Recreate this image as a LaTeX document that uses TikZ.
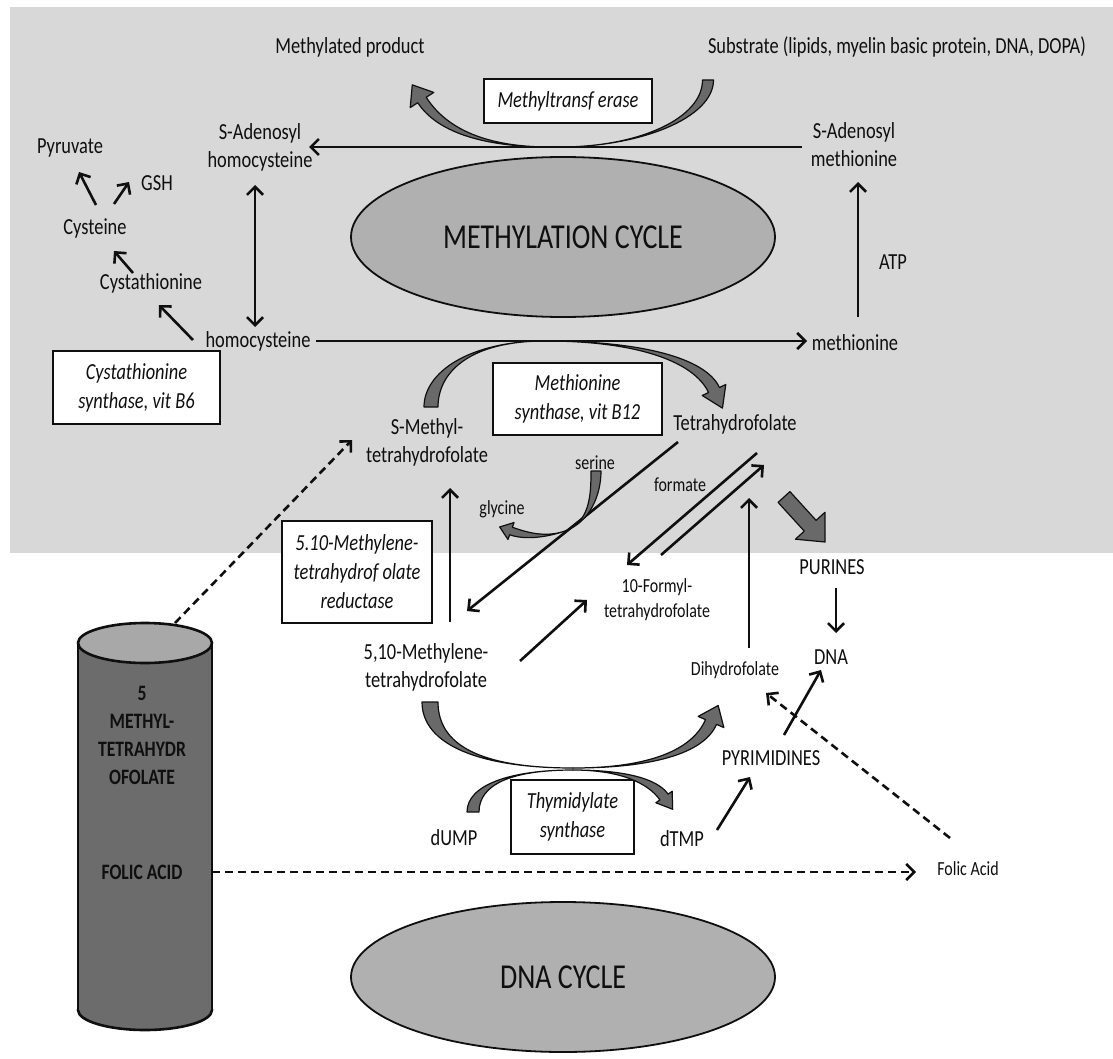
\documentclass[tikz,border=0pt]{standalone}
\usepackage{fontspec}
\setmainfont[FakeStretch=0.8]{Carlito}
\usetikzlibrary{arrows.meta,calc,shapes.geometric}
\definecolor{bggray}{RGB}{216,216,216}
\definecolor{ellgray}{RGB}{176,176,176}
\definecolor{tapgray}{RGB}{105,105,105}
\definecolor{cylgray}{RGB}{108,108,108}
\definecolor{cyltop}{RGB}{168,168,168}
\definecolor{ink}{RGB}{15,15,15}
\newcommand\fs[2]{\fontsize{#1}{#2}\selectfont}
% tapered curved arrow: thin at #1, head at #4
\newcommand\tapHead[7]{%
  \filldraw[tap] (#1) .. controls (#2) and ($(#3)!#5!90:(#4)$) .. ($(#4)!#5!-90:(#3)$)
    -- ($(#4)!#6!-90:(#3)$) -- ($(#4)!-#7!(#3)$) -- ($(#4)!#6!90:(#3)$)
    -- ($(#4)!#5!90:(#3)$) .. controls ($(#3)!#5!-90:(#4)$) and (#2) .. (#1) -- cycle;}
% tapered curved tail: thin at #1, flat wide end at #4
\newcommand\tapTail[5]{%
  \filldraw[tap] (#1) .. controls (#2) and ($(#3)!#5!90:(#4)$) .. ($(#4)!#5!-90:(#3)$)
    -- ($(#4)!#5!90:(#3)$) .. controls ($(#3)!#5!-90:(#4)$) and (#2) .. (#1) -- cycle;}
% broad straight arrow
\newcommand\bigArrow[5]{%
  \coordinate (bAh) at ($(#2)!#5!(#1)$);
  \filldraw[tap] ($(#1)!#3!90:(#2)$) -- ($(bAh)!#3!-90:(#1)$) -- ($(bAh)!#4!-90:(#1)$)
    -- (#2) -- ($(bAh)!#4!90:(#1)$) -- ($(bAh)!#3!90:(#1)$) -- ($(#1)!#3!-90:(#2)$) -- cycle;}
\begin{document}
\begin{tikzpicture}[x=1pt,y=-1pt,
  lbl/.style={font=\fs{23}{28}, align=center, inner sep=0pt, text=ink},
  sml/.style={font=\fs{20}{25}, align=center, inner sep=0pt, text=ink},
  enz/.style={draw=ink, fill=white, line width=1.6pt, font=\fs{23}{29}\itshape, align=center, inner sep=0pt, text=ink},
  cyc/.style={ellipse, draw=ink, line width=1.8pt, fill=ellgray, font=\fs{35}{40}, text=ink, inner sep=0pt},
  conn/.style={draw=ink, line width=2.6pt, -{Straight Barb[length=8pt,width=16pt]}},
  conn2/.style={draw=ink, line width=2.6pt, {Straight Barb[length=8pt,width=16pt]}-{Straight Barb[length=8pt,width=16pt]}},
  dconn/.style={conn, dash pattern=on 8pt off 5pt},
  tap/.style={fill=tapgray, draw=ink, line width=1.2pt, line join=round},
  cyltxt/.style={font=\fs{22}{28}\bfseries, align=center, inner sep=0pt, text=ink}]
\useasboundingbox (0,0) rectangle (1113,1059);
\fill[white] (0,0) rectangle (1113,1059);
\fill[bggray] (10,7) rectangle (1113,553);

% ---------- cycles ----------
\node[cyc, minimum width=424pt, minimum height=160pt] (mcyc) at (563,237) {METHYLATION CYCLE};
\node[cyc, minimum width=424pt, minimum height=150pt] (dcyc) at (563,977) {DNA CYCLE};

% ---------- labels ----------
\node[lbl] (mprod) at (350,47) {Methylated product};
\node[lbl] (subs) at (897,47) {Substrate (lipids, myelin basic protein, DNA, DOPA)};
\node[lbl] (sah) at (260,147) {S-Adenosyl\\homocysteine};
\node[lbl] (sam) at (854,145) {S-Adenosyl\\methionine};
\node[lbl] (pyr) at (70,148) {Pyruvate};
\node[lbl] (gsh) at (157,183) {GSH};
\node[lbl] (cys) at (95,228) {Cysteine};
\node[lbl] (cysta) at (151,283) {Cystathionine};
\node[lbl] (atp) at (893,262) {ATP};
\node[lbl] (hcy) at (258,341) {homocysteine};
\node[lbl] (met) at (855,343) {methionine};
\node[lbl] (smthf) at (427,442) {S-Methyl-\\tetrahydrofolate};
\node[lbl] (thf) at (735,424) {Tetrahydrofolate};
\node[sml] (ser) at (595,463) {serine};
\node[sml] (gly) at (502,509) {glycine};
\node[sml] (form) at (680,485) {formate};
\node[lbl] (pur) at (832,567) {PURINES};
\node[lbl] (dna) at (831,657) {DNA};
\node[sml] (fthf) at (657,600) {10-Formyl-\\tetrahydrofolate};
\node[lbl] (mthf) at (426,667) {5,10-Methylene-\\tetrahydrofolate};
\node[sml] (dhf) at (735,670) {Dihydrofolate};
\node[lbl] (pyri) at (771,758) {PYRIMIDINES};
\node[lbl] (dump) at (454,838) {dUMP};
\node[lbl] (dtmp) at (682,839) {dTMP};
\node[sml] (fa) at (968,869) {Folic Acid};

% ---------- enzyme boxes ----------
\node[enz, minimum width=168pt, minimum height=44pt] (mtase) at (568,101) {Methyltransf erase};
\node[enz, minimum width=167pt, minimum height=73pt] (cbs) at (136.5,387.5) {Cystathionine\\synthase, vit B6};
\node[enz, minimum width=169pt, minimum height=72pt] (ms) at (577.5,399) {Methionine\\synthase, vit B12};
\node[enz, minimum width=150pt, minimum height=102pt] (mtr) at (357,572) {5.10-Methylene-\\tetrahydrof olate\\reductase};
\node[enz, minimum width=123pt, minimum height=74pt] (ts) at (572.5,817) {Thymidylate\\synthase};

% ---------- cylinder ----------
\filldraw[fill=cylgray, draw=ink, line width=2.6pt] (145,1010) ellipse [x radius=67pt, y radius=20pt];
\fill[cylgray] (78,643) rectangle (212,1010);
\draw[ink, line width=2.6pt] (78,643) -- (78,1010) (212,643) -- (212,1010);
\filldraw[fill=cyltop, draw=ink, line width=2.6pt] (145,643) ellipse [x radius=67pt, y radius=20pt];
\node[cyltxt] (cyl1) at (142,735) {5\\METHYL-\\TETRAHYDR\\OFOLATE};
\node[cyltxt] (cyl2) at (142,872) {FOLIC ACID};

% ---------- connector end points ----------
\coordinate (samL) at (802,147);  \coordinate (sahR) at (309,147);
\coordinate (sahB) at (255,185);  \coordinate (hcyT) at (255,327);
\coordinate (hcyL) at (193,340);  \coordinate (cystaR) at (159,305);
\coordinate (cystaT) at (133,273); \coordinate (cysB) at (114,251);
\coordinate (cysT1) at (96,205);  \coordinate (pyrB) at (79,172);
\coordinate (cysT2) at (114,204); \coordinate (gshB) at (129,182);
\coordinate (hcyR) at (316,341);  \coordinate (metL) at (807,341);
\coordinate (metT) at (858,317);  \coordinate (samB) at (858,182);
\coordinate (mthfT) at (450,622); \coordinate (smthfB) at (450,488);
\coordinate (thfBL) at (678,442); \coordinate (mthfTR) at (467,611);
\coordinate (thfB1) at (757,453); \coordinate (fthfT1) at (627,565);
\coordinate (fthfT2) at (661,555); \coordinate (thfB2) at (764,465);
\coordinate (dhfT) at (749,648);  \coordinate (thfB3) at (749,498);
\coordinate (purB) at (836,588);  \coordinate (dnaT) at (836,633);
\coordinate (mthfR) at (520,661); \coordinate (fthfL) at (587,600);
\coordinate (dtmpR) at (717,830); \coordinate (pyriB) at (750,777);
\coordinate (pyriT) at (784,735); \coordinate (dnaB) at (821,670);
\coordinate (cylT) at (175,623);  \coordinate (smthfL) at (352,440);
\coordinate (cylR) at (212,872);  \coordinate (faL) at (916,872);
\coordinate (faT) at (950,838);   \coordinate (dhfB) at (766,693);
\coordinate (thfP) at (784,497);  \coordinate (purP) at (825,542);

% ---------- straight connectors ----------
\draw[conn] (samL) -- (sahR);
\draw[conn2] (sahB) -- (hcyT);
\draw[conn] (hcyL) -- (cystaR);
\draw[conn] (cystaT) -- (cysB);
\draw[conn] (cysT1) -- (pyrB);
\draw[conn] (cysT2) -- (gshB);
\draw[conn] (hcyR) -- (metL);
\draw[conn] (metT) -- (samB);
\draw[conn] (mthfT) -- (smthfB);
\draw[conn] (thfBL) -- (mthfTR);
\draw[conn] (thfB1) -- (fthfT1);
\draw[conn] (fthfT2) -- (thfB2);
\draw[conn] (dhfT) -- (thfB3);
\draw[conn] (purB) -- (dnaT);
\draw[conn] (mthfR) -- (fthfL);
\draw[conn] (dtmpR) -- (pyriB);
\draw[conn] (pyriT) -- (dnaB);
\draw[dconn] (cylT) -- (smthfL);
\draw[dconn] (cylR) -- (faL);
\draw[dconn] (faT) -- (dhfB);

% ---------- gray curved arrows ----------
% methyltransferase
\tapHead{550,147}{480,147}{440,128}{422,100}{5pt}{14pt}{18pt}
\tapTail{560,147}{640,147}{708,118}{708,80}{5.5pt}
% methionine synthase
\tapTail{545,341}{470,341}{431,372}{431,407}{7pt}
\tapHead{545,341}{640,341}{700,360}{714,390}{6pt}{13pt}{20pt}
% serine -> glycine
\tapTail{565,531}{590,522}{596,495}{596,471}{5pt}
\tapHead{565,531}{545,538}{525,536}{511,531}{4pt}{9pt}{12pt}
% 5,10-methylene-THF -> dihydrofolate
\tapTail{573,768}{480,768}{430,745}{430,702}{8pt}
\tapHead{573,768}{650,768}{698,752}{711,722}{6pt}{14pt}{18pt}
% dUMP -> dTMP
\tapTail{573,770}{510,770}{473,785}{473,812}{6pt}
\tapHead{573,770}{620,770}{652,780}{664,797}{5pt}{10pt}{15pt}
% THF -> purines
\bigArrow{thfP}{purP}{8pt}{20pt}{22pt}
\end{tikzpicture}
\end{document}
